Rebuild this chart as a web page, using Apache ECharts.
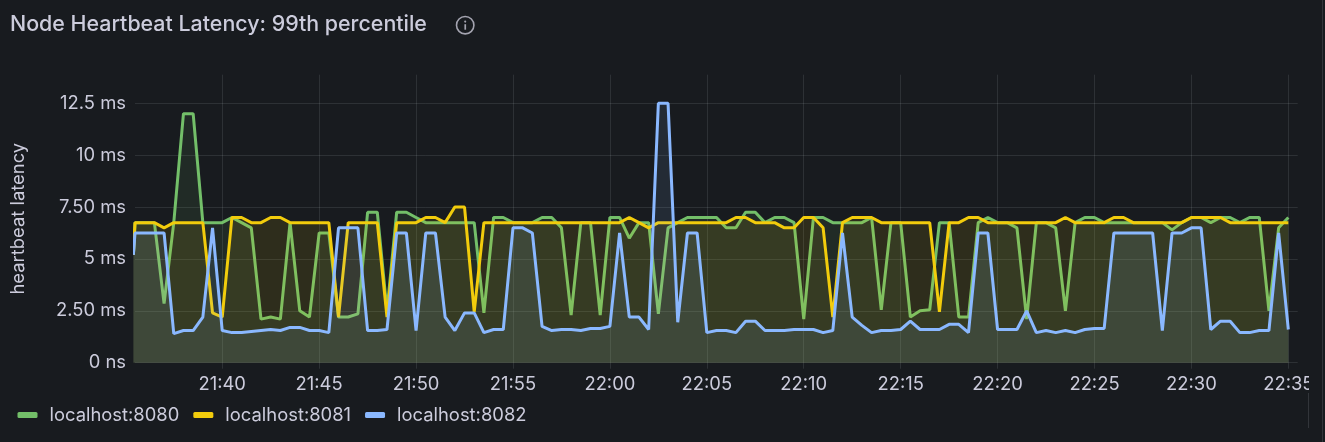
<!DOCTYPE html>
<html><head><meta charset="utf-8">
<script src="https://cdn.jsdelivr.net/npm/echarts@6/dist/echarts.min.js"></script>
<style>html,body{margin:0;padding:0;background:#181b1f;overflow:hidden}#c{width:1325px;height:442px}</style>
</head><body><div id="c"></div>
<script>
const seriesNames = ['localhost:8080','localhost:8081','localhost:8082'];
const yTicks = [0,2.5,5,7.5,10,12.5];
const yTickLabels = ['0 ns','2.50 ms','5 ms','7.50 ms','10 ms','12.5 ms'];
const startSample = Date.UTC(2024,0,1,21,35,25);
const firstGrid = Date.UTC(2024,0,1,21,35,30);
const axisEnd = Date.UTC(2024,0,1,22,35,29);
const stepMs = 30000;
const tickMinutes = [40,45,50,55,60,65,70,75,80,85,90,95];
const green = [5.2,
6.75,6.75,6.75,2.85,6.75,12,12,6.75,6.75,6.75,
7,6.75,6.5,2.1,2.2,2.1,6.75,2.5,2.2,6.25,
6.25,2.2,2.2,2.35,7.25,7.25,2.5,7.25,7.25,7,
6.75,6.75,6.75,6.75,6.75,6.75,2.4,7,7,6.75,
6.75,6.75,7,7,6.5,2.3,6.75,6.75,2.3,7,
7,6,6.75,6.75,2.35,6.5,6.75,7,7,7,
7,6.5,6.5,7.25,7.25,6.75,7,7,6.75,2.1,
7,7,6.75,6.75,6.75,6.75,7,2.55,6.75,6.75,
2.2,2.5,2.55,6.75,6.75,2.2,2.2,6.75,7,6.75,
6.75,6.5,2.1,6.75,6.75,6.5,2.5,6.75,7,7,
6.75,6.75,6.75,6.75,6.75,6.75,6.75,6.4,6.75,7,
7,6.75,7,7,6.75,7,7,2.5,6.5,7];
const yellow = [5.2,
6.75,6.75,6.75,6.5,6.75,6.75,6.75,6.75,2.4,2.2,
7,7,6.75,6.75,7,7,6.75,6.75,6.75,6.75,
6.75,2.2,6.75,6.75,6.75,6.75,2.2,6.75,6.75,6.75,
7,7,6.75,7.5,7.5,2.45,6.75,6.75,6.75,6.75,
6.75,6.75,6.75,6.75,6.75,6.75,6.75,6.75,6.75,6.75,
6.75,7,6.75,6.5,6.75,6.75,6.75,6.75,6.75,6.75,
6.75,6.75,7,7,6.75,6.75,6.75,6.5,6.5,7,
7,6.5,2.2,6.75,7,7,7,6.75,6.75,6.75,
6.75,6.75,6.75,2.45,6.75,6.75,7,7,6.75,6.75,
6.75,6.75,6.75,6.75,6.75,6.75,7,6.75,6.75,6.75,
6.75,7,7,6.75,6.75,6.75,6.75,6.75,6.75,7,
7,7,7,6.75,6.75,6.75,6.75,6.75,6.75,6.75];
const blue = [5.2,
6.25,6.25,6.25,6.25,1.4,1.55,1.55,2.2,6.5,1.55,
1.45,1.45,1.5,1.55,1.6,1.55,1.7,1.7,1.55,1.55,
1.45,6.5,6.5,6.5,1.55,1.55,1.6,6.25,6.25,1.55,
6.25,6.25,2.2,1.55,2.4,2.4,1.45,1.6,1.6,6.5,
6.5,6.25,1.75,1.55,1.6,1.6,1.55,1.65,1.65,1.75,
6.25,2.2,2.2,1.6,12.5,12.5,1.95,6.25,6.25,1.45,
1.55,1.55,1.45,2,2,1.55,1.55,1.55,1.6,1.6,
1.6,1.45,1.55,6.25,2.2,1.8,1.45,1.55,1.55,1.6,
2,1.6,1.6,1.6,1.85,1.85,1.45,6.25,6.25,1.6,
1.6,1.6,2.5,1.45,1.55,1.45,1.55,1.45,1.6,1.65,
1.65,6.25,6.25,6.25,6.25,6.25,1.55,6.25,6.25,6.5,
6.5,1.6,2,2,1.45,1.45,1.55,1.55,6.25,1.6];
const colors = ['#73BF69','#F2CC0C','#8AB8FF'];
const lists = [green,yellow,blue];
const textColor = '#ccccdc';
const gridColor = 'rgba(240,250,255,0.10)';
const bg = '#181b1f';
const pad = n => String(n).padStart(2,'0');
const toPairs = arr => arr.map((v,i)=>[i===0?startSample:firstGrid+(i-1)*stepMs, v]);
const tickTimes = tickMinutes.map(m=>Date.UTC(2024,0,1,21,m,0));
const chart = echarts.init(document.getElementById('c'));
chart.setOption({
  animation:false, backgroundColor:bg,
  textStyle:{fontFamily:'Inter'},
  title:{text:'Node Heartbeat Latency: 99th percentile',left:10,top:14,padding:0,textStyle:{color:textColor,fontSize:21.4,fontWeight:500,fontFamily:'Inter'}},
  grid:{left:135,top:74.7,width:1162.7,height:288,containLabel:false},
  legend:{left:17.5,top:406,padding:0,itemWidth:20,itemHeight:6,itemGap:14,icon:'roundRect',
    data:seriesNames,textStyle:{color:textColor,fontSize:18.4,fontFamily:'Inter',padding:[0,0,0,7]}},
  xAxis:{type:'value',min:firstGrid,max:axisEnd,
    axisLine:{show:false},
    axisTick:{show:true,length:6,lineStyle:{color:gridColor},customValues:tickTimes},
    splitLine:{show:true,lineStyle:{color:gridColor,width:1}},
    axisLabel:{color:textColor,fontSize:18.4,fontFamily:'Inter',margin:13,hideOverlap:false,customValues:tickTimes,
      formatter:v=>{const d=new Date(v);return pad(d.getUTCHours())+':'+pad(d.getUTCMinutes());}}},
  yAxis:{type:'value',min:0,max:13.88,name:'heartbeat latency',nameLocation:'middle',nameGap:108,
    nameTextStyle:{color:textColor,fontSize:18.4,fontFamily:'Inter'},
    axisLine:{show:false},axisTick:{show:false,customValues:yTicks},
    splitLine:{show:true,lineStyle:{color:gridColor,width:1}},
    axisLabel:{color:textColor,fontSize:18.4,fontFamily:'Inter',margin:9,customValues:yTicks,
      formatter:v=>yTickLabels[yTicks.indexOf(v)]}},
  series:seriesNames.map((n,i)=>({name:n,type:'line',data:toPairs(lists[i]),showSymbol:false,symbol:'none',clip:false,
    lineStyle:{color:colors[i],width:3},itemStyle:{color:colors[i]},areaStyle:{color:colors[i],opacity:0.1},z:2+i})),
  graphic:[
   {type:'group',left:454,top:14,children:[
    {type:'circle',shape:{cx:9.5,cy:9.5,r:8.7},style:{fill:'none',stroke:'#a4a4b0',lineWidth:1.6}},
    {type:'rect',shape:{x:8.7,y:8.5,width:1.7,height:5.5},style:{fill:'#a4a4b0'}},
    {type:'circle',shape:{cx:9.5,cy:5.9,r:1.05},style:{fill:'#a4a4b0'}}
   ]},
   {type:'rect',z:100,shape:{x:1309,y:370,width:16,height:72},style:{fill:bg}},
   {type:'line',z:101,shape:{x1:1308.5,y1:393,x2:1308.5,y2:428},style:{stroke:'rgba(240,250,255,0.12)',lineWidth:1}},
   {type:'line',z:101,shape:{x1:1322.5,y1:0,x2:1322.5,y2:442},style:{stroke:'rgba(240,250,255,0.12)',lineWidth:1}}
  ]
});
</script></body></html>
